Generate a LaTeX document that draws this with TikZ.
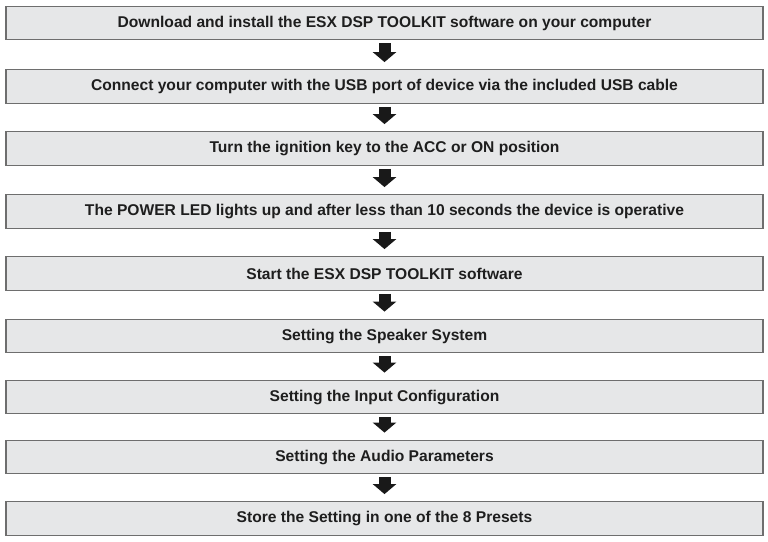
\documentclass[tikz,border=0pt]{standalone}
\usepackage{fontspec}
\setmainfont{Liberation Sans}
\usetikzlibrary{arrows.meta}
\definecolor{boxfill}{HTML}{E6E7E8}
\definecolor{boxline}{HTML}{6E6E6E}
\definecolor{txt}{HTML}{1E1E1E}

\begin{document}
\begin{tikzpicture}[x=1pt,y=-1pt]
      \useasboundingbox (0,0) rectangle (768,541);
      \tikzstyle{stepbox} = [draw=boxline, fill=boxfill, line width=1.3pt,
        minimum width=757pt, minimum height=33.5pt, inner sep=0pt,
        text=txt, font=\fontsize{15.6}{18}\selectfont\bfseries]
      \tikzstyle{flow} = [line width=12pt, draw=black!90,
        -{Triangle[width=23pt,length=10pt]}, shorten <=3pt, shorten >=7pt]
      \foreach \yc/\t [count=\i] in {
        23/Download and install the ESX DSP TOOLKIT software on your computer,
        86.5/Connect your computer with the USB port of device via the included USB cable,
        148.5/Turn the ignition key to the ACC or ON position,
        211.5/The POWER LED lights up and after less than 10 seconds the device is operative,
        273.5/Start the ESX DSP TOOLKIT software,
        336/Setting the Speaker System,
        397/Setting the Input Configuration,
        457/Setting the Audio Parameters,
        518.5/Store the Setting in one of the 8 Presets}{
        \node[stepbox](s\i) at (384.5,\yc) {\t};
      }
      \foreach \i in {1,...,8}{
        \pgfmathtruncatemacro{\inext}{\i + 1}
        \draw[flow] (s\i) -- (s\inext);
      }
    \end{tikzpicture}
\end{document}
